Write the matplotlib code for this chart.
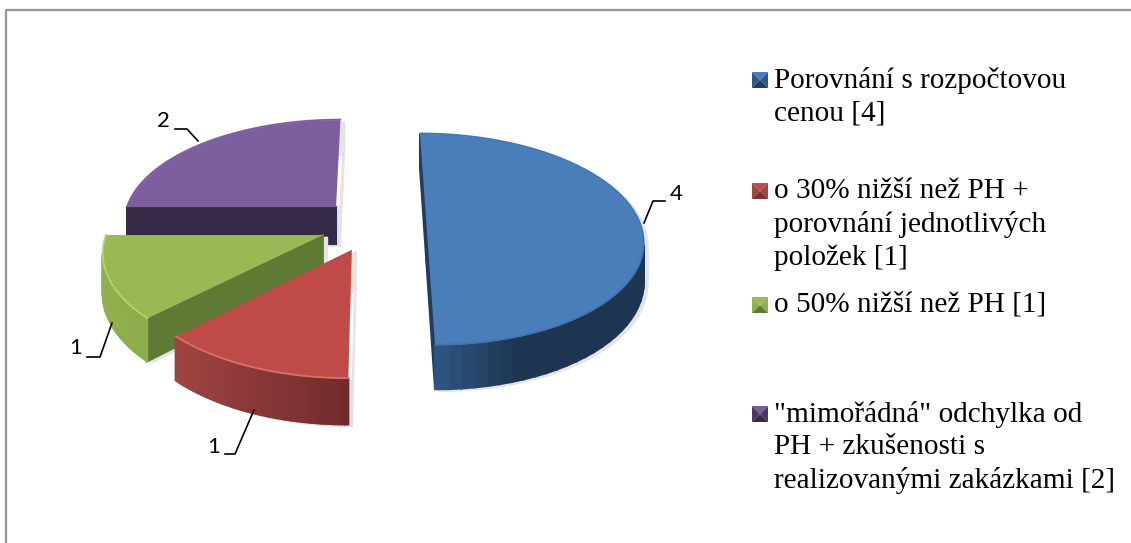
import numpy as np
import matplotlib
matplotlib.use('Agg')
import matplotlib.pyplot as plt

plt.rcParams['font.family'] = ['Liberation Serif', 'DejaVu Sans']

# values
values = [4, 1, 1, 2]
legend_lines = [
    ['Porovnání s rozpočtovou', 'cenou [4]'],
    ['o 30% nižší než PH +', 'porovnání jednotlivých', 'položek [1]'],
    ['o 50% nižší než PH [1]'],
    ['"mimořádná" odchylka od', 'PH + zkušenosti s', 'realizovanými zakázkami [2]'],
]
top_colors = ['#4a7ebb', '#be4b48', '#98b954', '#7d5fa0']
rim_colors = [('#2f5a88', '#1e3552'), ('#a04442', '#702a2b'), ('#8fb04c', '#7f9f46'), ('#4a3a62', '#352a47')]
edge_colors = ['#1d3d63', '#7a2f2e', '#5f7a35', '#352a47']
glow_colors = ['#4274ad', '#d9706c', '#b5d36f', '#7d5fa0']

# camera of the fake 3d pie, everything in pixels
cx, cy = 373, 225
rx, ry = 214, 103.6
persp = 0.138
depth = 38


def project(pts):
    pts = np.asarray(pts)
    s = 1 / (1 + persp * pts[:, 1])
    return np.column_stack([cx + rx * pts[:, 0] * s, cy - ry * pts[:, 1] * s]), s


def mix(c1, c2, t):
    a = np.array(matplotlib.colors.to_rgb(c1))
    b = np.array(matplotlib.colors.to_rgb(c2))
    return tuple(a + (b - a) * t)


fig = plt.figure(figsize=(11.31, 5.43), dpi=100)
ax = fig.add_axes([0, 0, 1, 1])

# pie only for the slice geometry, the projected faces are drawn below
wedges, _ = ax.pie(values, explode=[0.25] * 4, startangle=90, counterclock=False)
geo = [(w.center, w.theta1, w.theta2) for w in wedges]
for w in wedges:
    w.remove()

ax.set_aspect('auto')
ax.set_xlim(0, 1131)
ax.set_ylim(543, 0)
ax.axis('off')

# draw back to front: purple, blue, green, red
order = [3, 0, 2, 1]
for z, i in enumerate(order):
    center, t1, t2 = geo[i]
    th = np.radians(np.linspace(t1, t2, 60))
    arc = np.column_stack([center[0] + np.cos(th), center[1] + np.sin(th)])
    outline = np.vstack([[center], arc, [center]])
    top, s = project(outline)
    bottom = top + np.column_stack([np.zeros(len(s)), depth * s])
    base = 10 + z * 10

    # soft shadow, filled per segment so the outline can't cut holes in it
    for k in range(len(outline) - 1):
        quad = np.array([top[k], top[k + 1], bottom[k + 1], bottom[k]])
        ax.fill(quad[:, 0] + 4, quad[:, 1] + 2, color='#e4e4e4', lw=1, ec='#e4e4e4', zorder=base)

    # sides, farthest segments first, back facing segments left out
    segs = []
    for k in range(len(outline) - 1):
        is_arc = 0 < k < len(outline) - 2
        dx = top[k + 1, 0] - top[k, 0]
        if dx <= 0:
            continue
        # red and purple show no face on their right cut
        if not is_arc and i in (1, 3) and abs(dx) < 5:
            continue
        segs.append((outline[k:k + 2, 1].mean(), k, is_arc))
    segs.sort(key=lambda q: -q[0])
    xmin, xmax = top[:, 0].min(), top[:, 0].max()
    for _, k, is_arc in segs:
        quad = np.array([top[k], top[k + 1], bottom[k + 1], bottom[k]])
        if is_arc:
            t = (top[k, 0] - xmin) / (xmax - xmin)
            c = mix(rim_colors[i][0], rim_colors[i][1], t if i != 0 else min(t * 2.5, 1))
        else:
            c = edge_colors[i]
        ax.fill(quad[:, 0], quad[:, 1], color=c, lw=1.5, ec=c, zorder=base + 1)

    ax.fill(top[:, 0], top[:, 1], color=top_colors[i], lw=0, zorder=base + 2)
    ax.plot(top[1:-1, 0], top[1:-1, 1] - 0.5, color=glow_colors[i], lw=1.3,
            solid_capstyle='round', zorder=base + 3)

# leader lines and data labels
leaders = [
    ('4', (676, 194), [(665, 201), (653, 201), (644, 223)]),
    ('1', (214, 447), [(225, 454), (235, 454), (254, 410)]),
    ('1', (76, 348), [(87, 357), (100, 357), (112, 323)]),
    ('2', (163, 121), [(175, 129), (187, 129), (198, 141)]),
]
for txt, pos, line in leaders:
    xs, ys = zip(*line)
    ax.plot(xs, ys, color='black', lw=1.2, zorder=80)
    ax.text(pos[0], pos[1], txt, family='Lato', fontsize=16, ha='center', va='center', zorder=81)

# legend
legend_y = [80, 191, 305, 414]
legend_dy = 33.4
for i, (lines, y0) in enumerate(zip(legend_lines, legend_y)):
    for j, line in enumerate(lines):
        ax.text(774, y0 + j * legend_dy, line, fontsize=21.1, va='center', ha='left', color='black', zorder=90)
    # bevelled key
    x0, x1, ya, yb = 752, 768, y0 - 8, y0 + 8
    xc, yc = (x0 + x1) / 2, y0
    dark = edge_colors[i]
    ax.fill([x0, x1, xc], [ya, ya, yc], color=top_colors[i], lw=0, zorder=90)
    ax.fill([x0, xc, x0], [ya, yc, yb], color=rim_colors[i][0], lw=0, zorder=90)
    ax.fill([x1, xc, x1], [ya, yc, yb], color=rim_colors[i][0], lw=0, zorder=90)
    ax.fill([x0, x1, xc], [yb, yb, yc], color=dark, lw=0, zorder=90)

# chart frame
ax.plot([6, 6, 1131], [543, 9.5, 9.5], color='#969696', lw=1.6, zorder=95)

fig.savefig('out.png', dpi=100)
